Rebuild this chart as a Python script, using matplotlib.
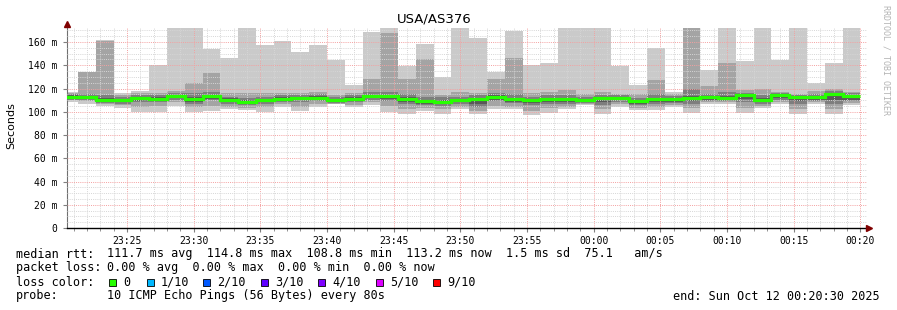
import numpy as np
import matplotlib.pyplot as plt
from matplotlib.patches import Rectangle

W, H = 897, 310

# 10 sorted ping rtts (ms) for each 80 s step
pings = [
    [108.4, 110, 110.5, 111.5, 112, 113.3, 114, 115, 116, 117],
    [107, 109.5, 110, 110.8, 111.3, 112.8, 113.5, 115, 134, 134.5],
    [105, 106.5, 107.8, 108.5, 109.3, 110.8, 111.8, 114, 160.5, 161.5],
    [103.5, 105.5, 107, 108, 108.6, 110.1, 111, 112.5, 114.5, 116.5],
    [100, 104, 108.5, 109.5, 110.3, 111.8, 112.7, 114, 116, 118],
    [100, 105, 108.5, 109.5, 110.1, 111.6, 112.5, 114, 116, 140],
    [105, 108, 110.5, 111.5, 112.4, 113.9, 114.8, 116, 118, 172],
    [99.8, 104, 107, 108.5, 109.6, 111.3, 112.3, 116, 125, 172],
    [101, 105, 110, 111, 112.2, 113.9, 114.8, 117, 133.5, 154],
    [102.5, 104.5, 107, 108, 109, 110.6, 111.5, 113, 116, 146],
    [101.5, 103.5, 105.5, 106.5, 107.4, 108.9, 109.8, 111.5, 116, 172],
    [100, 104, 107, 108, 108.8, 110.3, 111.2, 113, 116, 157.7],
    [104, 106.5, 108.5, 109.5, 110.1, 111.6, 112.5, 114, 116, 161],
    [100.4, 104, 108.5, 109.8, 110.4, 111.9, 112.8, 114.5, 116, 151.4],
    [104, 106.5, 109, 110, 110.8, 112.3, 113.2, 115, 117, 157.7],
    [106.5, 107, 107.5, 108.3, 108.7, 110.2, 111, 112.5, 114.5, 144.8],
    [104, 106, 108.5, 109.5, 110, 111.5, 112.4, 114, 116, 122.7],
    [105.5, 108, 110.5, 111.5, 112.3, 113.8, 114.7, 117, 128.5, 169],
    [100, 105, 109.5, 110.8, 112.3, 113.8, 114.7, 117, 168, 172],
    [98, 102, 107, 108.5, 110, 111.5, 112.4, 115, 128.5, 139.4],
    [100.4, 103, 105.5, 106.8, 107.7, 109.2, 110.1, 113, 145.7, 158.6],
    [98.4, 102, 105, 106.5, 107.3, 108.8, 109.7, 113, 114.7, 129.9],
    [102, 104.5, 107, 108, 108.8, 110.3, 111.2, 113, 117, 172],
    [98.4, 101, 104.5, 107, 109.7, 111.2, 112.1, 114, 116.4, 163.7],
    [102, 105, 109, 110.5, 111.8, 113.3, 114.2, 116.5, 128.5, 134.2],
    [102, 104.5, 107.5, 108.7, 109.8, 111.3, 112.2, 115, 146.2, 169.2],
    [97.5, 101, 105.5, 107.5, 108.8, 110.3, 111.2, 113, 116, 140.5],
    [99.2, 103, 106.5, 108.5, 109.7, 111.2, 112.1, 114, 117, 141.9],
    [102, 104.5, 107, 108.5, 109.5, 111, 111.9, 114, 118.4, 172],
    [105.5, 106.5, 107.3, 108, 108.5, 110, 110.9, 112.5, 115, 172],
    [98.4, 102, 106, 108.5, 110.4, 111.9, 112.8, 114.5, 117, 172],
    [104, 106.5, 108.5, 109.8, 110.7, 112.2, 113.1, 114.3, 115.6, 139],
    [101.2, 103.5, 105.5, 106.8, 108, 109.5, 110.4, 112, 115, 122.7],
    [101.2, 104, 107, 108.5, 109.7, 111.2, 112.1, 115, 127, 154.8],
    [104, 105.5, 107.5, 108.7, 109.7, 111.2, 112.1, 113.5, 115.5, 117],
    [99.2, 103, 107, 109, 110.8, 112.3, 113.2, 120, 172, 174],
    [107, 108, 109.5, 110.5, 111.4, 112.9, 113.8, 115.5, 122.2, 135.6],
    [107, 108, 109.5, 110.3, 110.8, 112.3, 113.2, 117, 142.2, 172],
    [99.2, 103, 108, 111, 112.9, 114.4, 115.3, 116.5, 118.5, 143.4],
    [103.2, 105, 107, 108, 108.8, 110.3, 111.5, 114, 119.9, 172],
    [107, 108.5, 110.5, 111.8, 112.9, 114.4, 115.3, 116.3, 117, 144.8],
    [98.4, 102, 106.5, 109, 111.4, 112.9, 113.6, 114.3, 115, 172],
    [107, 108, 109.5, 110.5, 111.1, 112.6, 113.5, 115, 118, 124.7],
    [98.4, 102, 107, 110.5, 113.8, 115.3, 116.2, 117.5, 119.3, 141.9],
    [106, 107.5, 109, 110.5, 112.3, 113.8, 114.7, 116, 117, 172],
]
median = [113, 112.5, 110.5, 109.8, 111.5, 111.3, 113.6, 111, 113.6, 110.3,
          108.6, 110, 111.3, 111.6, 112, 109.9, 111.2, 113.5, 113.5, 111.2,
          108.9, 108.5, 110, 110.9, 113, 111, 110, 110.9, 110.7, 109.7,
          111.6, 111.9, 109.2, 110.9, 110.9, 112, 112.6, 112, 114.1, 110,
          114.1, 112.6, 112.3, 115, 113.5]

time_labels = ['23:25', '23:30', '23:35', '23:40', '23:45', '23:50',
               '23:55', '00:00', '00:05', '00:10', '00:15', '00:20']
y_labels = ['0', '20 m', '40 m', '60 m', '80 m', '100 m', '120 m', '140 m', '160 m']
loss_labels = ['0', '1/10', '2/10', '3/10', '4/10', '5/10', '9/10']
loss_colors = ['#26ff00', '#00b8ff', '#0059ff', '#5e00ff', '#7e00ff', '#dd00ff', '#ff0000']

p = np.array(pings)
# seconds after 23:20:30; steps of 80 s, last one ends at 00:20:00
edges = -30 + 80 * np.arange(len(pings) + 1)


def fx(x):
    return x / W


def fy(y):
    return 1 - y / H


fig = plt.figure(figsize=(W / 100, H / 100), dpi=100)
fig.patch.set_facecolor('white')
ax = fig.add_axes([fx(67), fy(228), fx(800), (228 - 27.5) / H])

# smoke: pairs of pings, darker towards the middle
for k in range(5):
    g = int(190 / 5 * (4 - k)) + 50
    col = '#%02x%02x%02x' % (g, g, g)
    ax.stairs(p[:, 9 - k], edges, baseline=p[:, k], fill=True, color=col,
              lw=0, zorder=2)

# median, coloured by loss (all 0 here), drawn over the grid
ax.stairs(median, edges, baseline=None, color=loss_colors[0], lw=2.3, zorder=6)

ax.set_xlim(0, 3600)
ax.set_ylim(0, 172.5)

ax.set_xticks(270 + 300 * np.arange(len(time_labels)))
ax.set_xticklabels(time_labels)
ax.set_xticks(np.arange(30, 3600, 60), minor=True)
ax.set_yticks(np.arange(0, 161, 20))
ax.set_yticklabels(y_labels)
ax.set_yticks(np.arange(0, 171, 5), minor=True)

ax.grid(which='minor', color='#d6d6d6', lw=0.7, ls=(0, (1, 1.2)), zorder=5)
ax.grid(which='major', color='#f4a0a0', lw=0.7, ls=(0, (1, 1.2)), zorder=5)
ax.set_axisbelow(False)

mono = 'DejaVu Sans Mono'
ax.tick_params(axis='both', which='major', length=3, width=0.8, color='#808080',
               labelsize=7, labelfontfamily=mono)
ax.tick_params(axis='x', which='major', pad=3)
ax.tick_params(axis='y', which='major', pad=4)
ax.tick_params(axis='both', which='minor', length=2, width=0.6, color='#808080')
ax.tick_params(axis='y', which='minor', length=0)

for s in ['top', 'right']:
    ax.spines[s].set_visible(False)
ax.spines['left'].set_color('#707070')
ax.spines['left'].set_linewidth(0.8)
ax.spines['bottom'].set_color('black')
ax.spines['bottom'].set_linewidth(1.0)
ax.spines['bottom'].set_zorder(7)

# axis arrows
ax.plot([0], [1.015], marker='^', ms=4, color='#800000', transform=ax.transAxes,
        clip_on=False, zorder=8)
ax.plot([1.003], [0], marker='>', ms=4, color='#800000', transform=ax.transAxes,
        clip_on=False, zorder=8)

fig.text(fx(434), fy(19.5), 'USA/AS376', ha='center', va='center', fontsize=9.5,
         family='DejaVu Sans')
fig.text(fx(11), fy(126), 'Seconds', ha='center', va='center', rotation=90,
         fontsize=8, family='DejaVu Sans')
fig.text(fx(886), fy(60), 'RRDTOOL / TOBI OETIKER', ha='center', va='center',
         rotation=270, fontsize=6, family=mono, color='#b4b4b4')

fs = 8.5
rows = [254, 268, 282, 296]
fig.text(fx(16), fy(rows[0]), 'median rtt:', va='center', fontsize=fs, family=mono)
fig.text(fx(107), fy(rows[0]),
         '111.7 ms avg  114.8 ms max  108.8 ms min  113.2 ms now  1.5 ms sd  75.1   am/s',
         va='center', fontsize=fs, family=mono)
fig.text(fx(16), fy(rows[1]), 'packet loss:', va='center', fontsize=fs, family=mono)
fig.text(fx(107), fy(rows[1]), '0.00 % avg  0.00 % max  0.00 % min  0.00 % now',
         va='center', fontsize=fs, family=mono)
fig.text(fx(16), fy(rows[2]), 'loss color:', va='center', fontsize=fs, family=mono)
box_x = [109, 147, 203, 261, 318, 376, 433]
for bx, lab, col in zip(box_x, loss_labels, loss_colors):
    fig.patches.append(Rectangle((fx(bx), fy(rows[2] + 3.5)), 7 / W, 7 / H,
                                 transform=fig.transFigure, facecolor=col,
                                 edgecolor='black', lw=0.6))
    fig.text(fx(bx + 14), fy(rows[2]), lab, va='center', fontsize=fs, family=mono)
fig.text(fx(16), fy(rows[3]), 'probe:', va='center', fontsize=fs, family=mono)
fig.text(fx(107), fy(rows[3]), '10 ICMP Echo Pings (56 Bytes) every 80s',
         va='center', fontsize=fs, family=mono)
fig.text(fx(880), fy(rows[3]), 'end: Sun Oct 12 00:20:30 2025', ha='right',
         va='center', fontsize=fs, family=mono)

fig.savefig('out.png', dpi=100)
